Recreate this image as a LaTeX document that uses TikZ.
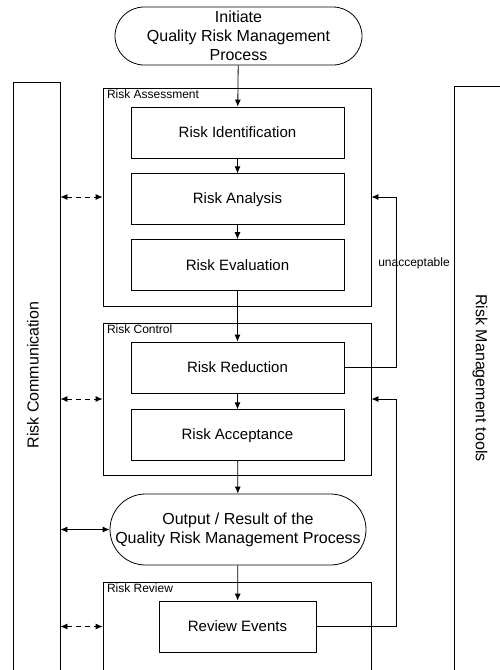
\documentclass[tikz,border=0pt]{standalone}
\usepackage{fontspec}
\setmainfont{Liberation Sans}
\usetikzlibrary{positioning}
\usetikzlibrary{arrows.meta}
\usetikzlibrary{shapes.misc}

\begin{document}
\begin{tikzpicture}[x=1pt,y=-1pt,line width=0.8pt,>={Latex[length=7pt,width=6pt]},node distance=15pt]
\tikzset{activity/.style={rectangle,minimum width=213pt,minimum height=51pt,draw,font=\fontsize{15}{18}\selectfont}}
\tikzset{terminal/.style={rounded rectangle,draw,align=center,inner sep=0pt,font=\fontsize{16}{19}\selectfont}}
\tikzset{group/.style={rectangle,minimum width=268pt,draw}}
\tikzset{grouplabel/.style={anchor=north west,inner sep=2pt,xshift=2pt,font=\fontsize{12}{14}\selectfont}}
\tikzset{sidebar/.style={rectangle,draw,minimum height=620pt}}
\tikzset{sidetext/.style={font=\fontsize{16}{19}\selectfont}}
\tikzset{talk/.style={<->,dash pattern=on 5pt off 4pt}}
\clip (0,0) rectangle (500,670);
% side bars
\node[sidebar,minimum width=47pt] (comm) at (36.5,392) {};
\node[sidetext,rotate=90] (commtext) at (33,375) {Risk Communication};
\node[sidebar,minimum width=80pt] (tools) at (494,396) {};
\node[sidetext,rotate=-90] (toolstext) at (480,378) {Risk Management tools};
% groups
\node[group,minimum height=218pt] (assess) at (237,197) {};
\node[grouplabel] (assesslabel) at (assess.north west) {Risk Assessment};
\node[group,minimum height=152pt] (control) at (237,399) {};
\node[grouplabel] (controllabel) at (control.north west) {Risk Control};
\node[group,minimum height=130pt] (review) at (237,647) {};
\node[grouplabel] (reviewlabel) at (review.north west) {Risk Review};
% steps
\node[terminal,minimum width=247pt,minimum height=58pt] (init) at (238.5,36) {Initiate\\Quality Risk Management\\Process};
\node[activity] (ident) at (237.5,132.5) {Risk Identification};
\node[activity,below=of ident] (analysis) {Risk Analysis};
\node[activity,below=14pt of analysis] (evaluation) {Risk Evaluation};
\node[activity] (reduction) at (237.5,367.5) {Risk Reduction};
\node[activity,below=16pt of reduction] (acceptance) {Risk Acceptance};
\node[terminal,minimum width=256pt,minimum height=71pt] (output) at (238,529.5) {Output / Result of the\\Quality Risk Management Process};
\node[activity,minimum width=157pt] (events) at (237.5,626.5) {Review Events};
% flow
\draw[->] (init) -- (ident);
\draw[->] (ident) -- (analysis);
\draw[->] (analysis) -- (evaluation);
\draw[->] (evaluation) -- (reduction);
\draw[->] (reduction) -- (acceptance);
\draw[->] (acceptance) -- (output);
\draw[->] (output) -- (events);
% feedback
\coordinate (loop) at (396,0);
\draw[->] (reduction.east) -| (loop |- assess.east) -- (assess.east);
\node[font=\fontsize{12}{14}\selectfont] (unacc) at (414,263) {unacceptable};
\draw[->] (events.east) -| (loop |- control.east) -- (control.east);
% communication
\draw[talk] (comm.east |- assess.west) -- (assess.west);
\draw[talk] (comm.east |- control.west) -- (control.west);
\draw[<->] (comm.east |- output.west) -- (output.west);
\draw[talk] (comm.east |- events.west) -- (review.west |- events.west);
\end{tikzpicture}
\end{document}
